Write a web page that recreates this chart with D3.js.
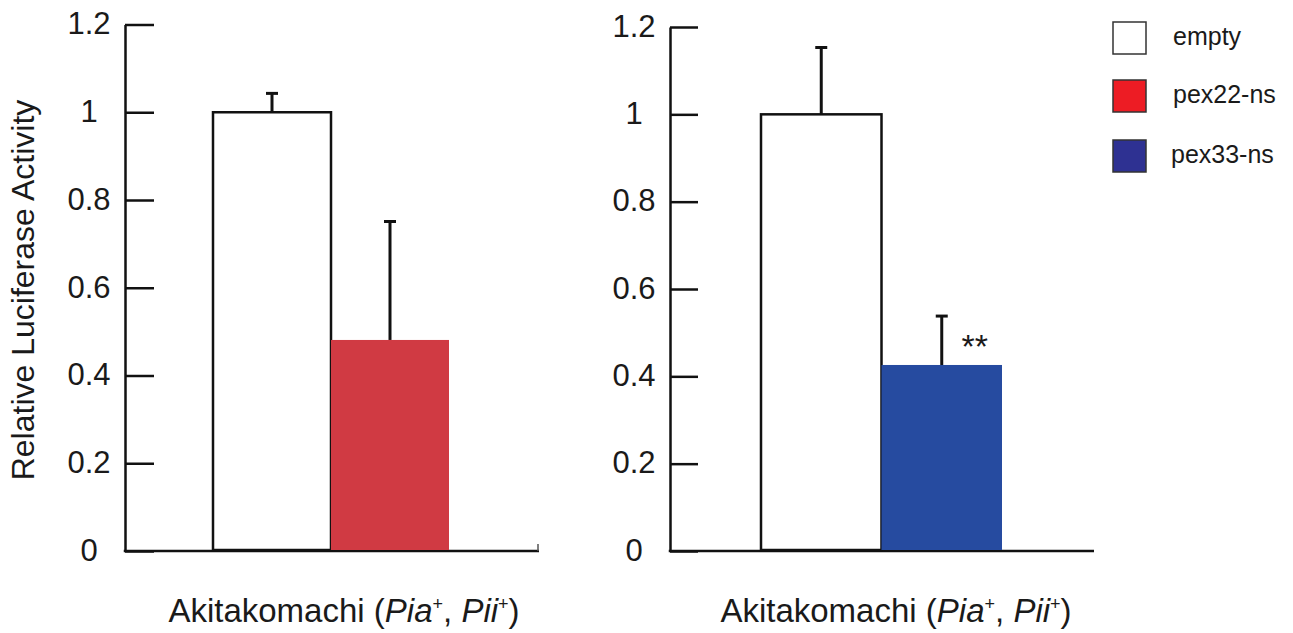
<!DOCTYPE html>
<html>
<head>
<meta charset="utf-8">
<script src="https://cdn.jsdelivr.net/npm/d3@7"></script>
<style>
  body { margin: 0; background: #fff; }
  text { font-family: "Liberation Sans", Arial, Helvetica, sans-serif; fill: #1a1a1a; }
</style>
</head>
<body>
<svg id="chart" width="1293" height="633"></svg>
<script>
// data
var groups = ['empty', 'pex22-ns', 'pex33-ns'];
var legendColors = ['#ffffff', '#ed1c24', '#2e3192'];
var barColors = ['#ffffff', '#d03a43', '#264ba0'];
var tickValues = [0, 0.2, 0.4, 0.6, 0.8, 1, 1.2];

var leftBars = ['empty', 'pex22-ns'];
var leftMeans = [1.0, 0.481];
var leftErrors = [0.043, 0.27];

var rightBars = ['empty', 'pex33-ns'];
var rightMeans = [1.0, 0.426];
var rightErrors = [0.153, 0.112];
var rightMarks = ['', '**'];

var svg = d3.select('#chart');

var color = d3.scaleOrdinal().domain(groups).range(barColors);

var drawPanel = function(opts) {
  var y = d3.scaleLinear().domain([0, 1.2]).range([opts.y0, opts.y1]);
  var x = d3.scaleBand().domain(opts.bars).range(opts.barRange).padding(0);
  var g = svg.append('g');

  // y axis, ticks pointing into the plot, labels centred on the left
  var yAxis = g.append('g')
    .attr('transform', 'translate(' + opts.axisX + ',0)')
    .call(d3.axisRight(y)
      .tickValues(tickValues)
      .tickSize(opts.tickLen)
      .tickSizeOuter(0)
      .tickFormat(d3.format('~g')));
  yAxis.select('.domain').attr('stroke', '#111').attr('stroke-width', 2.5);
  yAxis.selectAll('.tick line').attr('stroke', '#111').attr('stroke-width', 2.5);
  yAxis.selectAll('.tick text')
    .attr('x', -36)
    .attr('dy', '0.3em')
    .attr('text-anchor', 'middle')
    .style('font-size', '31px')
    .style('font-family', '"Liberation Sans", Arial, sans-serif')
    .attr('fill', '#1a1a1a');

  // x axis line
  g.append('line')
    .attr('x1', opts.axisX - 1.25)
    .attr('x2', opts.axisEnd)
    .attr('y1', y(0))
    .attr('y2', y(0))
    .attr('stroke', '#111')
    .attr('stroke-width', 2.5);
  if (opts.endTick) {
    g.append('line')
      .attr('x1', opts.axisEnd - 1)
      .attr('x2', opts.axisEnd - 1)
      .attr('y1', y(0))
      .attr('y2', y(0) - 7)
      .attr('stroke', '#555')
      .attr('stroke-width', 1.5);
  }

  var rows = opts.bars.map(function(b, i) {
    return {name: b, mean: opts.means[i], err: opts.errors[i], mark: opts.marks ? opts.marks[i] : ''};
  });

  // error bars (upper only), drawn first so the bar hides the stub
  var eb = g.selectAll('g.err').data(rows).enter().append('g').attr('class', 'err');
  eb.append('line')
    .attr('x1', function(d) { return x(d.name) + x.bandwidth() / 2; })
    .attr('x2', function(d) { return x(d.name) + x.bandwidth() / 2; })
    .attr('y1', function(d) { return y(d.mean); })
    .attr('y2', function(d) { return y(d.mean + d.err); })
    .attr('stroke', '#111')
    .attr('stroke-width', 3);
  eb.append('line')
    .attr('x1', function(d) { return x(d.name) + x.bandwidth() / 2 - 6; })
    .attr('x2', function(d) { return x(d.name) + x.bandwidth() / 2 + 6; })
    .attr('y1', function(d) { return y(d.mean + d.err); })
    .attr('y2', function(d) { return y(d.mean + d.err); })
    .attr('stroke', '#111')
    .attr('stroke-width', 3);

  g.selectAll('rect.bar').data(rows).enter().append('rect')
    .attr('class', 'bar')
    .attr('x', function(d) { return x(d.name); })
    .attr('y', function(d) { return y(d.mean); })
    .attr('width', x.bandwidth())
    .attr('height', function(d) { return y(0) - y(d.mean) - 1; })
    .attr('fill', function(d) { return color(d.name); })
    .attr('stroke', function(d) { return d.name === 'empty' ? '#111' : 'none'; })
    .attr('stroke-width', 2.5);

  g.selectAll('text.mark').data(rows.filter(function(d) { return d.mark; })).enter().append('text')
    .attr('class', 'mark')
    .attr('x', function(d) { return x(d.name) + x.bandwidth() / 2 + 33; })
    .attr('y', function(d) { return y(d.mean + d.err) + 42; })
    .attr('text-anchor', 'middle')
    .style('font-size', '34px')
    .attr('fill', '#333')
    .text(function(d) { return d.mark; });

  // cultivar label under the panel
  var lab = g.append('text')
    .attr('x', opts.labelX)
    .attr('y', 622)
    .attr('text-anchor', 'middle')
    .style('font-size', '33px');
  lab.append('tspan').text('Akitakomachi (');
  lab.append('tspan').style('font-style', 'italic').text('Pia');
  lab.append('tspan').attr('dy', -12).style('font-size', '18px').text('+');
  lab.append('tspan').attr('dy', 12).text(', ');
  lab.append('tspan').style('font-style', 'italic').text('Pii');
  lab.append('tspan').attr('dy', -12).style('font-size', '18px').text('+');
  lab.append('tspan').attr('dy', 12).text(')');
};

drawPanel({
  bars: leftBars, means: leftMeans, errors: leftErrors,
  y0: 551, y1: 24.5, axisX: 125, axisEnd: 539, tickLen: 29,
  barRange: [213, 449], labelX: 344, endTick: true
});
drawPanel({
  bars: rightBars, means: rightMeans, errors: rightErrors, marks: rightMarks,
  y0: 551, y1: 27, axisX: 670, axisEnd: 1094, tickLen: 28,
  barRange: [761, 1002], labelX: 896, endTick: false
});

// y title
svg.append('text')
  .attr('transform', 'translate(34,290) rotate(-90)')
  .attr('text-anchor', 'middle')
  .style('font-size', '32px')
  .text('Relative Luciferase Activity');

// legend
var legend = svg.append('g').attr('class', 'legend');
var legendY = [22, 80, 140];
var item = legend.selectAll('g').data(groups).enter().append('g')
  .attr('transform', function(d, i) { return 'translate(1113,' + legendY[i] + ')'; });
item.append('rect')
  .attr('width', 33)
  .attr('height', 32)
  .attr('fill', function(d, i) { return legendColors[i]; })
  .attr('stroke', '#333')
  .attr('stroke-width', 1.5);
item.append('text')
  .attr('x', function(d, i) { return i === 2 ? 58 : 60; })
  .attr('y', 23)
  .style('font-size', '25px')
  .text(function(d) { return d; });
</script>
</body>
</html>
